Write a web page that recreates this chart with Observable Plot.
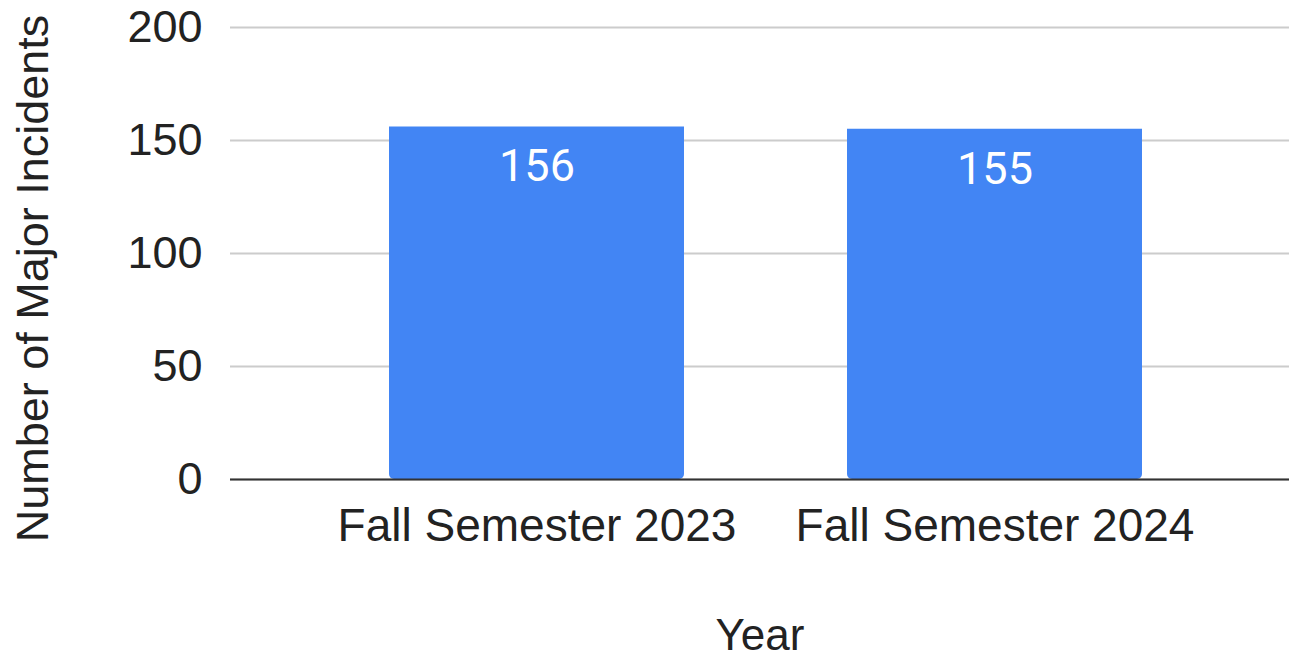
<!DOCTYPE html>
<html>
<head>
<meta charset="utf-8">
<script src="https://cdn.jsdelivr.net/npm/d3@7"></script>
<script src="https://cdn.jsdelivr.net/npm/@observablehq/plot@0.6"></script>
<style>
  html, body { margin: 0; padding: 0; background: #fff; }
</style>
</head>
<body>
<div id="chart"></div>
<script>
const categories = ["Fall Semester 2023", "Fall Semester 2024"];
const values = [156, 155];
const yTicks = [0, 50, 100, 150, 200];
const xTitle = "Year";
const yTitle = "Number of Major Incidents";

const data = categories.map((c, i) => ({category: c, value: values[i]}));

const chart = Plot.plot({
  width: 1289,
  height: 660,
  marginLeft: 230,
  marginRight: 0,
  marginTop: 27,
  marginBottom: 181,
  style: {fontFamily: "'Liberation Sans', Arial, sans-serif", fontSize: "45px", color: "#222", background: "#fff"},
  x: {domain: categories, paddingInner: 0.356, paddingOuter: 0.334, align: 0.52, label: null},
  y: {domain: [0, 200], ticks: yTicks, label: null},
  marks: [
    Plot.gridY(yTicks, {stroke: "#cccccc", strokeOpacity: 1, strokeWidth: 2}),
    Plot.axisY(yTicks, {tickSize: 0, tickPadding: 28, label: null, fill: "#222"}),
    Plot.axisX({tickSize: 0, tickPadding: 29, label: null, fill: "#222", fontSize: 46}),
    Plot.barY(data, {x: "category", y: "value", fill: "#4285F4", ry2: 5, rx: 5}),
    Plot.ruleY([0], {stroke: "#333", strokeWidth: 2}),
    Plot.text(data, {x: "category", y: "value", text: d => String(d.value), dy: 40, fill: "#fff", fontFamily: "Roboto, sans-serif", fontSize: 45}),
    Plot.text([xTitle], {frameAnchor: "bottom", text: d => d, lineAnchor: "middle", textAnchor: "middle", dy: 156, fontSize: 44, fill: "#222"}),
    Plot.text([yTitle], {frameAnchor: "left", text: d => d, textAnchor: "middle", lineAnchor: "middle", dx: -197, dy: 25, rotate: -90, fontSize: 45, fill: "#222"})
  ]
});
document.getElementById("chart").appendChild(chart);
</script>
</body>
</html>
